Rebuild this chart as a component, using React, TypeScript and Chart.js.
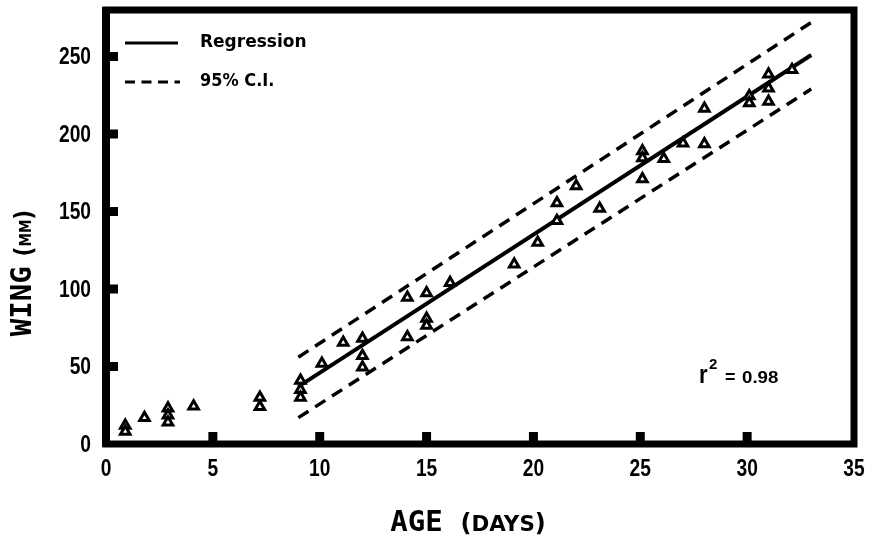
import React, { useEffect, useRef } from "react";
import { Chart, registerables } from "chart.js";

Chart.register(...registerables);

// ---- data ----
const ageDays = [
  0.9, 0.9, 1.8, 2.9, 2.9, 2.9, 4.1, 7.2, 7.2, 9.1, 9.1, 9.1, 10.1, 11.1, 12, 12, 12,
  14.1, 14.1, 15, 15, 15, 16.1, 19.1, 20.2, 21.1, 21.1, 22, 23.1, 25.1, 25.1, 25.1,
  26.1, 27, 28, 28, 30.1, 30.1, 31, 31, 31, 32.1,
];
const wingMm = [
  12, 8, 17, 23, 18.6, 14, 24.4, 30, 24, 41, 35, 30, 52, 65.5, 68, 57, 49.5,
  94.5, 69, 97.5, 81, 76.5, 104, 116, 130, 144, 155.5, 166.5, 152, 189, 184.5, 171,
  184, 194, 216.5, 193.5, 224.5, 220, 238.5, 229.5, 221, 241.5,
];
const regressionAge = [9, 33];
const regressionWing = [37, 251];
const ciUpperWing = [56, 272];
const ciLowerWing = [17, 229];

const xTicks = [0, 5, 10, 15, 20, 25, 30, 35];
const yTicks = [0, 50, 100, 150, 200, 250];
const xTickMarks = [5, 10, 15, 20, 25, 30];
const yTickMarks = [50, 100, 150, 200, 250];

const legendLabels = ["Regression", "95% C.I."];
const rSquaredText = "0.98";
const xTitleBig = "AGE";
const xTitleSmall = "DAYS";
const yTitleBig = "WING";
const yTitleSmall = "MM";

type Seg = { t: string; font: string; sx?: number; gap?: number; dy?: number };

function segWidth(ctx: CanvasRenderingContext2D, s: Seg) {
  ctx.font = s.font;
  return ctx.measureText(s.t).width * (s.sx ?? 1) + (s.gap ?? 0);
}

function drawSegs(ctx: CanvasRenderingContext2D, segs: Seg[], cx: number, baseline: number) {
  const total = segs.reduce((a, s) => a + segWidth(ctx, s), 0);
  let x = cx - total / 2;
  for (const s of segs) {
    ctx.save();
    ctx.font = s.font;
    ctx.textAlign = "left";
    ctx.textBaseline = "alphabetic";
    ctx.translate(x, baseline + (s.dy ?? 0));
    ctx.scale(s.sx ?? 1, 1);
    ctx.fillText(s.t, 0, 0);
    ctx.restore();
    x += segWidth(ctx, s);
  }
}

function drawText(
  ctx: CanvasRenderingContext2D,
  text: string,
  x: number,
  y: number,
  font: string,
  align: CanvasTextAlign,
  sx = 1,
  baseline: CanvasTextBaseline = "middle"
) {
  ctx.save();
  ctx.font = font;
  ctx.textAlign = align;
  ctx.textBaseline = baseline;
  ctx.translate(x, y);
  ctx.scale(sx, 1);
  ctx.fillText(text, 0, 0);
  ctx.restore();
}

const decorPlugin = {
  id: "decor",
  beforeDatasetsDraw(chart: any) {
    const { ctx, chartArea: a, scales } = chart;
    const xs = scales.x;
    const ys = scales.y;
    ctx.save();
    ctx.fillStyle = "#000";
    ctx.strokeStyle = "#000";
    // frame
    ctx.lineWidth = 7;
    ctx.strokeRect(a.left, a.top, a.right - a.left, a.bottom - a.top);
    ctx.lineWidth = 8;
    ctx.beginPath();
    ctx.moveTo(a.left, a.top - 3);
    ctx.lineTo(a.left, a.bottom + 3);
    ctx.stroke();
    // inward tick marks
    for (const v of xTickMarks) {
      const px = xs.getPixelForValue(v);
      ctx.fillRect(px - 4.5, a.bottom - 12, 9, 12);
    }
    for (const v of yTickMarks) {
      const py = ys.getPixelForValue(v);
      ctx.fillRect(a.left, py - 4.5, 12, 9);
    }
    ctx.restore();
  },
  afterDraw(chart: any) {
    const { ctx, scales } = chart;
    const xs = scales.x;
    const ys = scales.y;
    ctx.save();
    ctx.fillStyle = "#000";
    ctx.strokeStyle = "#000";
    const tickFont = 'bold 24px "Liberation Sans", Arial, sans-serif';
    for (const v of xTicks) {
      drawText(ctx, String(v), xs.getPixelForValue(v), 469, tickFont, "center", 0.8);
    }
    for (const v of yTicks) {
      drawText(ctx, String(v), 91, ys.getPixelForValue(v) + 1, tickFont, "right", 0.8);
    }

    // legend
    ctx.lineWidth = 3;
    ctx.setLineDash([]);
    ctx.beginPath();
    ctx.moveTo(125, 43);
    ctx.lineTo(178, 43);
    ctx.stroke();
    ctx.setLineDash([10, 6.5]);
    ctx.beginPath();
    ctx.moveTo(125, 82);
    ctx.lineTo(180, 82);
    ctx.stroke();
    ctx.setLineDash([]);
    const legFont = 'bold 17px "DejaVu Sans", sans-serif';
    drawText(ctx, legendLabels[0], 200, 43, legFont, "left", 1);
    drawText(ctx, legendLabels[1], 200, 82, legFont, "left", 0.95);

    // r^2 annotation
    drawText(ctx, "r", 699, 383, 'bold 26px "Liberation Sans", sans-serif', "left", 0.85, "alphabetic");
    drawText(ctx, "2", 709, 369, 'bold 15px "Liberation Sans", sans-serif', "left", 1, "alphabetic");
    drawText(ctx, "=", 725, 383, 'bold 18px "Liberation Sans", sans-serif', "left", 1, "alphabetic");
    drawText(ctx, rSquaredText, 742, 383, 'bold 17px "Liberation Sans", sans-serif', "left", 1.1, "alphabetic");

    // axis titles
    const bigFont = 'bold 29px "DejaVu Sans Mono", monospace';
    const parenFont = 'bold 24px "DejaVu Sans", sans-serif';
    drawSegs(
      ctx,
      [
        { t: xTitleBig, font: bigFont, sx: 1, gap: 18 },
        { t: "(", font: parenFont, sx: 1 },
        { t: xTitleSmall, font: 'bold 21px "DejaVu Sans", sans-serif', sx: 1.02 },
        { t: ")", font: parenFont, sx: 1 },
      ],
      468,
      531
    );
    ctx.save();
    ctx.translate(31, 273);
    ctx.rotate(-Math.PI / 2);
    drawSegs(
      ctx,
      [
        { t: yTitleBig, font: bigFont, sx: 1, gap: 10 },
        { t: "(", font: 'bold 24px "DejaVu Sans", sans-serif', sx: 0.9, dy: 1 },
        { t: yTitleSmall, font: 'bold 15px "DejaVu Sans", sans-serif', sx: 0.9 },
        { t: ")", font: 'bold 24px "DejaVu Sans", sans-serif', sx: 0.9, dy: 1 },
      ],
      0,
      0
    );
    ctx.restore();
    ctx.restore();
  },
};

export default function App() {
  const ref = useRef<HTMLCanvasElement | null>(null);
  useEffect(() => {
    document.body.style.margin = "0";
    if (!ref.current) return;
    const pts = ageDays.map((x, i) => ({ x, y: wingMm[i] }));
    const reg = regressionAge.map((x, i) => ({ x, y: regressionWing[i] }));
    const up = regressionAge.map((x, i) => ({ x, y: ciUpperWing[i] }));
    const lo = regressionAge.map((x, i) => ({ x, y: ciLowerWing[i] }));
    const chart = new Chart(ref.current, {
      type: "scatter",
      data: {
        datasets: [
          {
            label: legendLabels[0],
            data: reg,
            showLine: true,
            borderColor: "#000",
            borderWidth: 4,
            pointRadius: 0,
            order: 2,
          },
          {
            label: legendLabels[1],
            data: up,
            showLine: true,
            borderColor: "#000",
            borderWidth: 3.5,
            borderDash: [12, 8],
            pointRadius: 0,
            order: 3,
          },
          {
            label: legendLabels[1] + " lower",
            data: lo,
            showLine: true,
            borderColor: "#000",
            borderWidth: 3.5,
            borderDash: [12, 8],
            pointRadius: 0,
            order: 4,
          },
          {
            label: "Wing",
            data: pts,
            showLine: false,
            pointStyle: "triangle",
            pointRadius: 5.5,
            borderColor: "#000",
            backgroundColor: "#fff",
            borderWidth: 3,
            order: 1,
          },
        ],
      },
      options: {
        responsive: false,
        animation: false,
        events: [],
        layout: { padding: { top: 10, right: 24, left: 0, bottom: 0 } },
        plugins: { legend: { display: false }, tooltip: { enabled: false } },
        scales: {
          x: {
            type: "linear",
            min: 0,
            max: 35,
            grid: { display: false },
            border: { display: false },
            ticks: { display: false },
            afterFit: (s: any) => {
              s.height = 95;
            },
          },
          y: {
            type: "linear",
            min: 0,
            max: 280,
            grid: { display: false },
            border: { display: false },
            ticks: { display: false },
            afterFit: (s: any) => {
              s.width = 106;
            },
          },
        },
      },
      plugins: [decorPlugin],
    });
    return () => chart.destroy();
  }, []);
  return (
    <div style={{ width: 878, height: 539 }}>
      <canvas ref={ref} width={878} height={539} style={{ display: "block" }} />
    </div>
  );
}
